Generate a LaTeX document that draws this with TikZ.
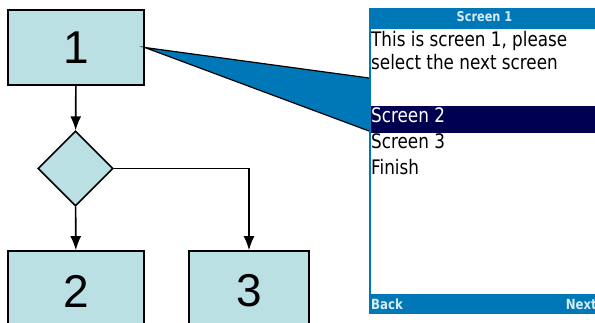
\documentclass[tikz,border=0pt]{standalone}
\usepackage{fontspec}
\setmainfont{Liberation Sans}
\newfontfamily\phonefont[FakeStretch=0.84]{DejaVu Sans}
\usetikzlibrary{arrows.meta,shapes.geometric}
\definecolor{boxfill}{RGB}{187,224,227}
\definecolor{phoneblue}{RGB}{0,120,184}
\definecolor{selnavy}{RGB}{0,0,80}
\definecolor{titletext}{RGB}{214,236,244}
\tikzset{
    stepbox/.style={draw, line width=1.6pt, fill=boxfill, minimum width=136pt, minimum height=75pt, font=\fontsize{46}{46}\selectfont},
    choice/.style={draw, line width=1.6pt, fill=boxfill, diamond, minimum width=75pt, minimum height=75pt, inner sep=0pt},
    flow/.style={->, line width=1.6pt},
    phonetext/.style={anchor=base west, inner sep=0pt, font=\phonefont\fontsize{20}{20}\selectfont},
    barlabel/.style={inner sep=0pt, text=titletext, font=\phonefont\bfseries\fontsize{14}{14}\selectfont},
}
\begin{document}
\begin{tikzpicture}[x=1pt, y=-1pt, >={Latex[length=14pt,width=11pt]}]
        \useasboundingbox (0,0) rectangle (595,323);

        \node[stepbox] (s1) at (76,47.5) {1};
        \node[choice] (q) at (75.5,168.5) {};
        \node[stepbox, minimum height=80pt] (s2) at (76,291) {2};
        \node[stepbox, minimum width=120pt, minimum height=80pt] (s3) at (249,291) {3};

        \draw[flow] (s1) -- (q);
        \draw[flow] (q) -- (s2);
        \draw[flow] (q.east) -| (s3);

        % phone screen
        \fill[phoneblue] (369,8) rectangle (600,29);
        \fill[phoneblue] (369,29) rectangle (371,294);
        \fill[phoneblue] (369,294) rectangle (600,314);
        \fill[selnavy] (371,106) rectangle (600,133);
        \node[barlabel, anchor=base, font=\phonefont\bfseries\fontsize{13.5}{13.5}\selectfont] (title) at (484.5,22) {Screen 1};
        \node[phonetext] (l1) at (371,47) {This is screen 1, please};
        \node[phonetext] (l2) at (371,70) {select the next screen};
        \node[phonetext, text=white] (o2) at (371,123) {Screen 2};
        \node[phonetext] (o3) at (371,149) {Screen 3};
        \node[phonetext] (o4) at (371,175) {Finish};
        \node[barlabel, anchor=base west] (back) at (371,310) {Back};
        \node[barlabel, anchor=base east] (next) at (597,310) {Next};

        % callout
        \coordinate (c1) at (369,78);
        \coordinate (c2) at (369,131);
        \fill[phoneblue] (s1.east) -- (c1) -- (c2) -- cycle;
        \draw[line width=1.2pt] (c1) -- (s1.east) -- (c2);
    \end{tikzpicture}
\end{document}
